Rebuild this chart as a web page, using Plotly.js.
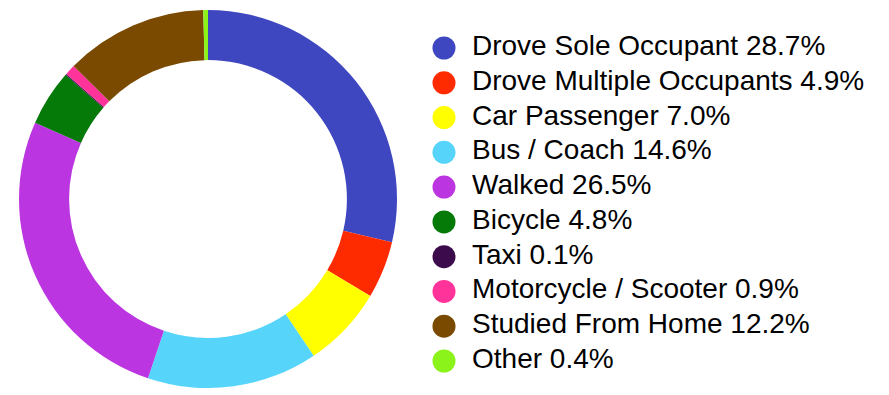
<!DOCTYPE html>
<html>
<head>
<meta charset="utf-8">
<script src="https://cdn.plot.ly/plotly-3.0.1.min.js"></script>
<style>html,body{margin:0;padding:0;background:#fff;}#chart{width:889px;height:395px;}</style>
</head>
<body>
<div id="chart"></div>
<script>
var categories = ["Drove Sole Occupant","Drove Multiple Occupants","Car Passenger","Bus / Coach","Walked","Bicycle","Taxi","Motorcycle / Scooter","Studied From Home","Other"];
var shares = [28.7, 4.9, 7.0, 14.6, 26.5, 4.8, 0.1, 0.9, 12.2, 0.4];
var colors = ["#3E47BF","#FF2B00","#FFFF00","#56D4FA","#BB35E0","#057A08","#3B0B4B","#FF3399","#7A4A00","#8BF21A"];

var legendText = categories.map(function(c, i){ return c + " " + shares[i].toFixed(1) + "%"; });

var pie = {
  type: "pie",
  labels: categories,
  values: shares,
  sort: false,
  direction: "clockwise",
  rotation: 0,
  hole: 0.735,
  textinfo: "none",
  hoverinfo: "none",
  showlegend: false,
  marker: {colors: colors, line: {width: 0}},
  domain: {x: [19/889, 397/889], y: [7/395, 385/395]}
};

var dots = {
  type: "scatter",
  mode: "markers",
  x: categories.map(function(){ return 0; }),
  y: categories,
  marker: {size: 23, color: colors},
  cliponaxis: false,
  hoverinfo: "none",
  showlegend: false
};

var labels = {
  type: "scatter",
  mode: "text",
  x: categories.map(function(){ return 1; }),
  y: categories,
  text: legendText,
  textposition: "middle right",
  textfont: {family: "Liberation Sans, Arial, sans-serif", size: 28, color: "#000"},
  cliponaxis: false,
  hoverinfo: "none",
  showlegend: false
};

var layout = {
  width: 889,
  height: 395,
  margin: {l: 0, r: 0, t: 0, b: 0},
  paper_bgcolor: "#fff",
  plot_bgcolor: "rgba(0,0,0,0)",
  showlegend: false,
  hovermode: false,
  xaxis: {domain: [444/889, 472/889], range: [0, 1], visible: false, fixedrange: true},
  yaxis: {domain: [1 - 361/395, 1 - 48/395], type: "category", categoryarray: categories, range: [9, 0], visible: false, fixedrange: true}
};

Plotly.newPlot("chart", [pie, dots, labels], layout, {displayModeBar: false, staticPlot: true});
</script>
</body>
</html>
